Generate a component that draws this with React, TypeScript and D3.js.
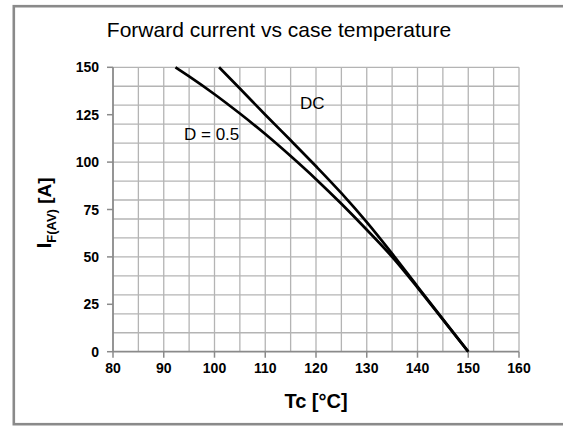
import React from 'react';
import * as d3 from 'd3';

// Tc [°C] vs IF(AV) [A]
const dcTemps = [100.9, 105, 110, 115, 120, 125, 130, 135, 140, 145, 150];
const dcCurrent = [150, 138.8, 125, 111.5, 97.8, 83.6, 68.3, 51.7, 34.4, 17.2, 0];

const halfTemps = [92.3, 95, 100, 105, 110, 115, 120, 125, 130, 135, 140, 145, 150];
const halfCurrent = [150, 145.2, 135.8, 125.6, 114.8, 103.2, 91, 78, 64.3, 50, 33.8, 16.9, 0];

const xTicks = [80, 90, 100, 110, 120, 130, 140, 150, 160];
const yTicks = [0, 25, 50, 75, 100, 125, 150];
const xGrid = d3.range(85, 161, 5);
const yGrid = d3.range(10, 151, 10);

const W = 563;
const H = 426;
const font = "Arial, 'Liberation Sans', sans-serif";

export default function App() {
  const x = d3.scaleLinear().domain([80, 160]).range([113, 519]);
  const y = d3.scaleLinear().domain([0, 150]).range([351.7, 67.3]);

  const line = d3.line<[number, number]>()
    .x(d => x(d[0]))
    .y(d => y(d[1]))
    .curve(d3.curveMonotoneX);

  const dc = dcTemps.map((t, i) => [t, dcCurrent[i]] as [number, number]);
  const half = halfTemps.map((t, i) => [t, halfCurrent[i]] as [number, number]);

  return (
    <svg width={W} height={H} style={{ position: 'absolute', left: 0, top: 0, background: '#fff' }} fontFamily={font}>
      <rect x={0} y={0} width={W} height={H} fill="#fff" />
      {/* outer frame */}
      <rect x={13.8} y={6.2} width={600} height={418} fill="none" stroke="#8a8a8a" strokeWidth={2.6} />

      <text x={279} y={37} textAnchor="middle" fontSize={21}>Forward current vs case temperature</text>

      {/* grid */}
      {xGrid.map(v => (
        <line key={'gx' + v} x1={x(v)} x2={x(v)} y1={y(0)} y2={y(150)} stroke="#b4b4b4" strokeWidth={1.3} />
      ))}
      {yGrid.map(v => (
        <line key={'gy' + v} x1={x(80)} x2={x(160)} y1={y(v)} y2={y(v)} stroke="#b4b4b4" strokeWidth={1.3} />
      ))}

      {/* axes */}
      <line x1={x(80)} x2={x(80)} y1={y(0)} y2={y(150)} stroke="#8a8a8a" strokeWidth={1.8} />
      <line x1={x(80)} x2={x(160)} y1={y(0)} y2={y(0)} stroke="#8a8a8a" strokeWidth={1.8} />
      {yTicks.map(v => (
        <g key={'yt' + v}>
          <line x1={x(80) - 6} x2={x(80)} y1={y(v)} y2={y(v)} stroke="#8a8a8a" strokeWidth={1.5} />
          <text x={99} y={y(v) + 5} textAnchor="end" fontSize={14} fontWeight="bold">{v}</text>
        </g>
      ))}
      {xTicks.map(v => (
        <g key={'xt' + v}>
          <line x1={x(v)} x2={x(v)} y1={y(0)} y2={y(0) + 6} stroke="#8a8a8a" strokeWidth={1.5} />
          <text x={x(v)} y={373} textAnchor="middle" fontSize={14} fontWeight="bold">{v}</text>
        </g>
      ))}

      {/* curves */}
      <path d={line(half) || ''} fill="none" stroke="#000" strokeWidth={2.7} />
      <path d={line(dc) || ''} fill="none" stroke="#000" strokeWidth={2.7} />

      <text x={300} y={109} fontSize={17}>DC</text>
      <text x={184} y={140} fontSize={17}>D = 0.5</text>

      {/* axis titles */}
      <text x={316} y={408} textAnchor="middle" fontSize={20} fontWeight="bold">Tc [°C]</text>
      <text transform="translate(51,213) rotate(-90)" textAnchor="middle" fontWeight="bold" fontSize={21}>
        I<tspan fontSize={13} dy={5}>F(AV)</tspan><tspan fontSize={19} dy={-5}>{'  [A]'}</tspan>
      </text>
    </svg>
  );
}
